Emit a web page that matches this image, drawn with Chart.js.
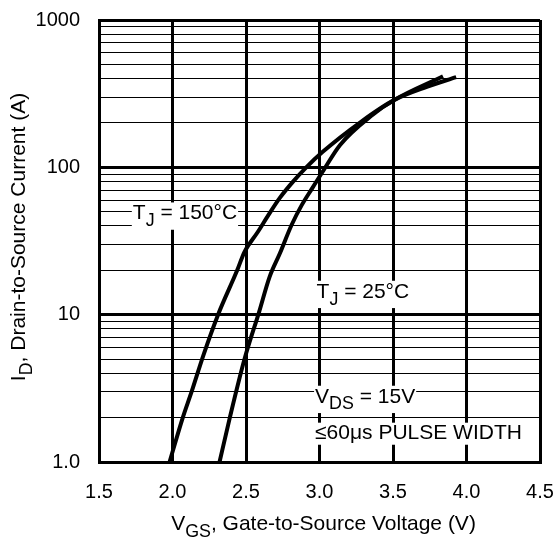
<!DOCTYPE html>
<html>
<head>
<meta charset="utf-8">
<script src="https://cdn.jsdelivr.net/npm/chart.js@4/dist/chart.umd.min.js"></script>
<style>
  html, body { margin: 0; padding: 0; background: #fff; }
  #wrap { width: 559px; height: 541px; }
</style>
</head>
<body>
<div id="wrap"><canvas id="transferChart"></canvas></div>
<script>
// values
const vgs150 = [1.98, 2.07, 2.13, 2.21, 2.31, 2.44, 2.49, 2.58, 2.65, 2.73, 2.82, 2.91, 3.02, 3.28, 3.51, 3.73, 3.93];
const id150  = [1.0,  2.0,  3.0,  5.3,  10,   20,   26.7, 36.4, 47,   62,   80,   100,  127,  203,  287,  352,  410];
const vgs25  = [2.32, 2.39, 2.49, 2.59, 2.66, 2.73, 2.81, 2.88, 2.95, 3.02, 3.14, 3.36, 3.51, 3.84];
const id25   = [1.0,  2.0,  5.0,  10.5, 18,   26,   40.6, 55.6, 72,   93,   142,  227,  287,  415];

const xMin = 1.5, xMax = 4.5, xStep = 0.5;
const yDecades = [1, 10, 100, 1000];

const FONT = 'Liberation Sans, Arial, sans-serif';

function toPoints(xs, ys) {
    return xs.map((x, i) => ({ x: x, y: ys[i] }));
}

function isDecade(v) {
    const l = Math.log10(v);
    return Math.abs(l - Math.round(l)) < 1e-9;
}

// text pieces: [string, isSubscript]
function partsWidth(ctx, parts, size) {
    let w = 0;
    parts.forEach(p => {
        ctx.font = (p[1] ? size * 0.85 : size) + 'px ' + FONT;
        w += ctx.measureText(p[0]).width;
    });
    return w;
}

function drawParts(ctx, parts, x, y, size) {
    let cx = x;
    parts.forEach(p => {
        const s = p[1] ? size * 0.85 : size;
        ctx.font = s + 'px ' + FONT;
        ctx.fillText(p[0], cx, p[1] ? y + size * 0.33 : y);
        cx += ctx.measureText(p[0]).width;
    });
}

const notes = [
    { v: 1.73, i: 50,   parts: [['T'], ['J', true], [' = 150°C']] },
    { v: 2.98, i: 14.7, parts: [['T'], ['J', true], [' = 25°C']] },
    { v: 2.97, i: 2.85, parts: [['V'], ['DS', true], [' = 15V']] },
    { v: 2.97, i: 1.6,  parts: [['≤60μs PULSE WIDTH']] }
];

const labelsPlugin = {
    id: 'labelsPlugin',
    afterDraw(chart) {
        const ctx = chart.ctx;
        const xs = chart.scales.x, ys = chart.scales.y;
        const size = 21;
        ctx.save();
        ctx.textBaseline = 'alphabetic';
        ctx.fillStyle = '#000';

        notes.forEach(n => {
            const left = xs.getPixelForValue(n.v);
            const base = ys.getPixelForValue(n.i) + size * 0.36;
            const w = partsWidth(ctx, n.parts, size);
            const hasSub = n.parts.some(p => p[1]);
            ctx.fillStyle = '#fff';
            ctx.fillRect(left - 1, base - size * 0.8, w + 2, size * (hasSub ? 1.3 : 1.05));
            ctx.fillStyle = '#000';
            drawParts(ctx, n.parts, left, base, size);
        });

        // axis titles with subscripts
        const tsize = 21;
        const area = chart.chartArea;
        const xt = [['V'], ['GS', true], [', Gate-to-Source Voltage (V)']];
        const xw = partsWidth(ctx, xt, tsize);
        drawParts(ctx, xt, (area.left + area.right) / 2 + 4 - xw / 2, 530, tsize);

        const yt = [['I'], ['D', true], [', Drain-to-Source Current (A)']];
        const yw = partsWidth(ctx, yt, tsize);
        ctx.translate(25, (area.top + area.bottom) / 2 - 4);
        ctx.rotate(-Math.PI / 2);
        drawParts(ctx, yt, -yw / 2, 0, tsize);
        ctx.restore();
    }
};

function noEdgePadding(s) {
    s.paddingTop = 0;
    s.paddingBottom = 0;
    s.paddingLeft = 0;
    s.paddingRight = 0;
}

const ctx = document.getElementById('transferChart').getContext('2d');
new Chart(ctx, {
    type: 'scatter',
    data: {
        datasets: [
            {
                label: 'TJ = 150°C',
                data: toPoints(vgs150, id150),
                showLine: true,
                borderColor: '#000',
                borderWidth: 4,
                pointRadius: 0,
                cubicInterpolationMode: 'monotone'
            },
            {
                label: 'TJ = 25°C',
                data: toPoints(vgs25, id25),
                showLine: true,
                borderColor: '#000',
                borderWidth: 4,
                pointRadius: 0,
                cubicInterpolationMode: 'monotone'
            }
        ]
    },
    options: {
        responsive: true,
        maintainAspectRatio: false,
        animation: false,
        layout: { padding: { top: 20, right: 19, left: 0, bottom: 0 } },
        plugins: {
            legend: { display: false },
            tooltip: { enabled: false }
        },
        scales: {
            x: {
                type: 'linear',
                min: xMin,
                max: xMax,
                afterFit: s => { s.height = 79; noEdgePadding(s); },
                ticks: {
                    stepSize: xStep,
                    color: '#000',
                    font: { family: FONT, size: 20 },
                    padding: 18,
                    callback: v => v.toFixed(1)
                },
                grid: { color: '#000', lineWidth: 3, drawTicks: false },
                border: { color: '#000', width: 3 }
            },
            y: {
                type: 'logarithmic',
                min: 1,
                max: 1000,
                afterFit: s => { s.width = 99; noEdgePadding(s); },
                afterBuildTicks: s => {
                    const t = [];
                    for (let d = 1; d < 1000; d *= 10) {
                        for (let m = 1; m < 10; m++) t.push({ value: m * d });
                    }
                    t.push({ value: 1000 });
                    s.ticks = t;
                },
                ticks: {
                    autoSkip: false,
                    color: '#000',
                    font: { family: FONT, size: 20 },
                    padding: 19,
                    callback: v => yDecades.includes(v) ? (v === 1 ? '1.0' : String(v)) : ''
                },
                grid: {
                    color: '#000',
                    lineWidth: c => (c.tick && isDecade(c.tick.value)) ? 3 : 1,
                    drawTicks: false
                },
                border: { color: '#000', width: 3 }
            }
        }
    },
    plugins: [labelsPlugin]
});
</script>
</body>
</html>
